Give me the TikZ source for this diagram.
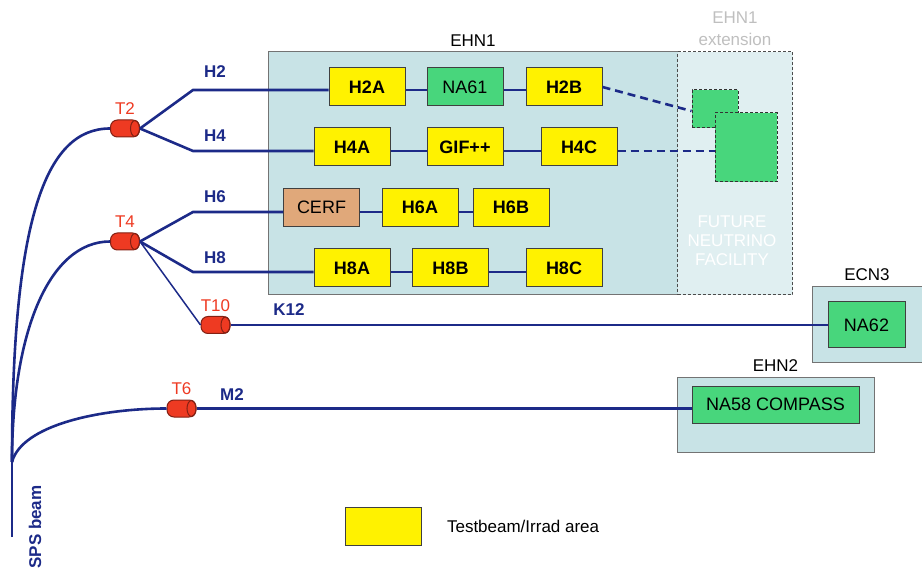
\documentclass[tikz,border=0pt]{standalone}
\usepackage{fontspec}
\setmainfont{Liberation Sans}
\usetikzlibrary{positioning}

\definecolor{beam}{HTML}{1C2A88}
\definecolor{tgt}{HTML}{EE3A22}
\definecolor{hall}{HTML}{C8E3E6}
\definecolor{hallext}{HTML}{E0EFF1}
\definecolor{expt}{HTML}{48D67C}
\definecolor{cerfc}{HTML}{E0A87A}

\begin{document}
\begin{tikzpicture}[x=1pt, y=-1pt,
        area/.style={rectangle, draw=black!75, fill=yellow, line width=1pt,
                    minimum width=76pt, minimum height=38pt,
                    font=\fontsize{18}{20}\selectfont\bfseries, inner sep=0pt},
        expbox/.style={area, fill=expt, font=\fontsize{18}{20}\selectfont},
        hallbox/.style={rectangle, draw=black!55, fill=hall, line width=1pt, inner sep=0pt},
        target/.style={rectangle, rounded corners=7pt, draw=tgt!55!black, fill=tgt,
                    line width=1pt, minimum width=29pt, minimum height=17pt, inner sep=0pt},
        tgtcap/.style={draw=tgt!55!black, line width=1pt},
        tlabel/.style={text=tgt, font=\fontsize{17}{20}\selectfont},
        blabel/.style={text=beam, font=\fontsize{17}{20}\selectfont\bfseries},
        hlabel/.style={font=\fontsize{17}{20}\selectfont},
        line/.style={draw=beam, line width=2.6pt},
        future/.style={line, dash pattern=on 8pt off 5pt},
    ]
    \useasboundingbox (0,0) rectangle (922,572);

    % ====== Halls ======
    \node[hallbox, minimum width=410pt, minimum height=243pt] (ehn1) at (473,173.5) {};
    \node[hlabel, above=1pt] at (ehn1.north) {EHN1};
    \node[hallbox, draw=black!70, densely dashed, fill=hallext,
          minimum width=115pt, minimum height=243pt] (ext) at (735,173.5) {};
    \node[hlabel, text=black!25, align=center, above=2pt] at (ext.north)
        {EHN1\\[2pt]extension};
    \node[hlabel, text=white, align=center] (fnf) at (732,241)
        {FUTURE\\[-1pt]NEUTRINO\\[-1pt]FACILITY};
    \node[hallbox, minimum width=110pt, minimum height=76pt] (ecn3) at (867,325) {};
    \node[hlabel, above=2pt] at (ecn3.north) {ECN3};
    \node[hallbox, minimum width=197pt, minimum height=74pt] (ehn2) at (775.5,415) {};
    \node[hlabel, above=2pt] at (ehn2.north) {EHN2};

    % ====== Experimental areas ======
    \node[area] (h2a) at (367,87) {H2A};
    \node[expbox] (na61) at (465,87) {NA61};
    \node[area] (h2b) at (564,87) {H2B};
    \node[area] (h4a) at (352,147) {H4A};
    \node[area] (gif) at (465,147) {GIF++};
    \node[area] (h4c) at (579,147) {H4C};
    \node[area, fill=cerfc, font=\fontsize{18}{20}\selectfont] (cerf) at (321.5,207.5) {CERF};
    \node[area] (h6a) at (420,207.5) {H6A};
    \node[area] (h6b) at (511,207.5) {H6B};
    \node[area] (h8a) at (352,268) {H8A};
    \node[area] (h8b) at (450.5,268) {H8B};
    \node[area] (h8c) at (564,268) {H8C};
    \node[expbox, minimum width=77pt, minimum height=46pt] (na62) at (866.5,325) {NA62};
    \node[expbox, minimum width=167pt, minimum height=37pt] (na58) at (775.5,404.5) {NA58 COMPASS};

    % future facility
    \node[rectangle, draw=black!80, densely dashed, fill=expt, line width=1pt,
          minimum width=46pt, minimum height=38pt, inner sep=0pt] (fut1) at (715,109) {};
    \node[rectangle, draw=black!80, densely dashed, fill=expt, line width=1pt,
          minimum width=62pt, minimum height=69pt, inner sep=0pt] (fut2) at (746,147.5) {};

    % ====== Targets ======
    \node[target] (t2) at (125,128.5) {};
    \node[tlabel, above=1pt] at (t2.north) {T2};
    \node[target] (t4) at (125,241.5) {};
    \node[tlabel, above=1pt] at (t4.north) {T4};
    \node[target] (t10) at (215.5,325) {};
    \node[tlabel, above=1pt] at (t10.north) {T10};
    \node[target] (t6) at (181.5,408.5) {};
    \node[tlabel, above=1pt] at (t6.north) {T6};
    \foreach \t in {t2, t4, t10, t6}
        \draw[tgtcap] ([xshift=-5pt]\t.east) ellipse (4.5pt and 8pt);

    \coordinate (spsend) at (12,537);
    \coordinate (split) at (12,462);
    \coordinate (k2) at (193,90);
    \coordinate (k4) at (193,151);
    \coordinate (k6) at (193,212);
    \coordinate (k8) at (193,272);

    % ====== Beam lines ======
    \draw[line] (spsend) -- (split);
    \draw[line] (split) .. controls (12,220) and (45,128.5) .. (t2.west);
    \draw[line] (split) .. controls (12,330) and (50,241.5) .. (t4.west);
    \draw[line] (split) .. controls (22,425) and (100,408.5) .. (t6.west);

    \draw[line] (t2.east) -- (k2) -- (h2a.west |- k2);
    \draw[line] (t2.east) -- (k4) -- (h4a.west |- k4);
    \draw[line] (t4.east) -- (k6) -- (cerf.west |- k6);
    \draw[line] (t4.east) -- (k8) -- (h8a.west |- k8);
    \draw[draw=beam, line width=1.5pt] (t4.east) -- (t10.west);
    \draw[line] (t10.east) -- (na62);
    \draw[line] (t6.east) -- (na58.west |- t6);

    \draw[line] (h2a.east |- k2) -- (na61.west |- k2);
    \draw[line] (na61.east |- k2) -- (h2b.west |- k2);
    \draw[line] (h4a.east |- k4) -- (gif.west |- k4);
    \draw[line] (gif.east |- k4) -- (h4c.west |- k4);
    \draw[line] (cerf.east |- k6) -- (h6a.west |- k6);
    \draw[line] (h6a.east |- k6) -- (h6b.west |- k6);
    \draw[line] (h8a.east |- k8) -- (h8b.west |- k8);
    \draw[line] (h8b.east |- k8) -- (h8c.west |- k8);

    \draw[future] (h2b.east) -- ([yshift=-2pt]fut1.west);
    \draw[future] (h4c.east |- k4) -- (fut2.west |- k4);

    \node[blabel] at (215,72) {H2};
    \node[blabel] at (215,136) {H4};
    \node[blabel] at (215,197) {H6};
    \node[blabel] at (215,258) {H8};
    \node[blabel] at (289,310) {K12};
    \node[blabel] at (232,395) {M2};
    \node[blabel, rotate=90] (sps) at (35,527) {SPS beam};

    % ====== Legend ======
    \node[area] (leg) at (383,526) {};
    \node[hlabel, right=22pt of leg] {Testbeam/Irrad area};

\end{tikzpicture}
\end{document}
